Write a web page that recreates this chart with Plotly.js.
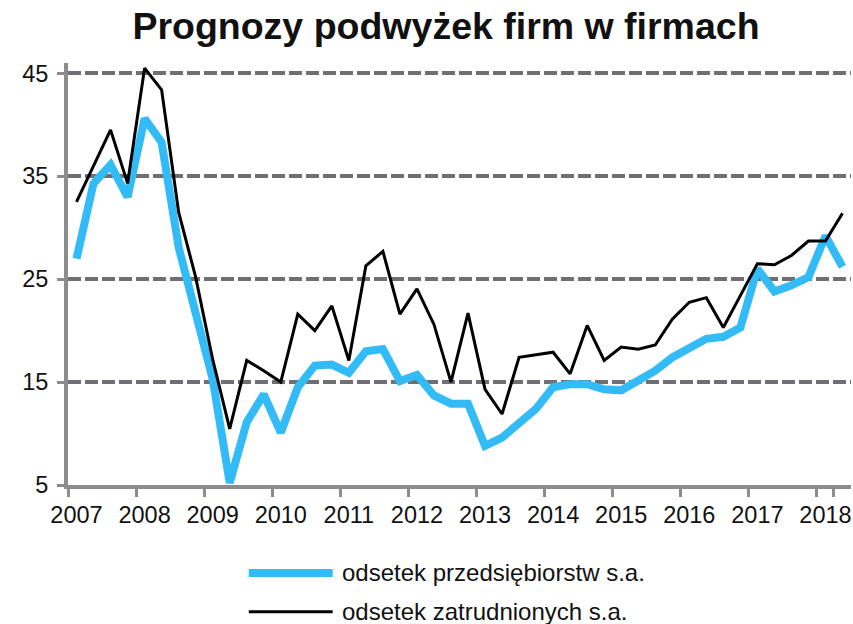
<!DOCTYPE html>
<html>
<head>
<meta charset="utf-8">
<script src="https://cdn.plot.ly/plotly-3.0.1.min.js"></script>
<style>html,body{margin:0;padding:0;background:#fff;}#chart{width:853px;height:624px;}</style>
</head>
<body>
<div id="chart"></div>
<script>
// Categories: quarters 2007 Q1 .. 2018 Q2
const years = ['2007','2008','2009','2010','2011','2012','2013','2014','2015','2016','2017','2018'];
const quarterNames = ['Q1','Q2','Q3','Q4'];
const quarters = [];
years.forEach(y => quarterNames.forEach(q => quarters.push(y + ' ' + q)));
quarters.splice(46); // data end at 2018 Q2

const seriesNames = ['odsetek przedsiębiorstw s.a.', 'odsetek zatrudnionych s.a.'];

const przedsiebiorstw = [27.0, 34.3, 36.1, 33.0, 40.6, 38.3, 28.1, 21.9, 15.3, 5.2,
  11.1, 13.8, 10.1, 14.5, 16.6, 16.7, 15.9, 18.0, 18.2, 15.1,
  15.7, 13.7, 12.9, 12.9, 8.8, 9.6, 11.1, 12.4, 14.5, 14.8,
  14.8, 14.3, 14.2, 15.1, 16.1, 17.4, 18.4, 19.2, 19.4, 20.3,
  26.0, 23.8, 24.4, 25.2, 29.2, 26.2];

const zatrudnionych = [32.5, 36.0, 39.5, 34.3, 45.5, 43.4, 31.5, 25.2, 17.2, 10.45,
  17.1, 16.1, 15.0, 21.6, 20.0, 22.4, 17.1, 26.3, 27.7, 21.6,
  24.05, 20.6, 15.0, 21.7, 14.3, 11.9, 17.4, 17.65, 17.9, 15.8,
  20.5, 17.1, 18.4, 18.2, 18.6, 21.1, 22.75, 23.2, 20.3, 23.4,
  26.5, 26.4, 27.3, 28.7, 28.7, 31.4];

const xTickVals = years.map(y => y + ' Q1');
const xTickText = years;
const yTickVals = [5, 15, 25, 35, 45];

const blue = '#33bbf7';
const axisGray = '#8c8c8c';
const gridGray = '#6f6f74';
const font = 'Liberation Sans, Arial, sans-serif';

const traces = [
  {x: quarters, y: przedsiebiorstw, name: seriesNames[0], type: 'scatter', mode: 'lines',
   line: {color: blue, width: 8}},
  {x: quarters, y: zatrudnionych, name: seriesNames[1], type: 'scatter', mode: 'lines',
   line: {color: '#000000', width: 3}}
];

// manual legend (long line samples as in the reference)
const legendY = [-0.2085, -0.3003];
const legendColors = [blue, '#000000'];
const legendWidths = [8, 3];

const shapes = legendY.map((yy, k) => ({
  type: 'line', xref: 'paper', yref: 'paper', x0: 0.2309, x1: 0.338, y0: yy, y1: yy,
  line: {color: legendColors[k], width: legendWidths[k]}
}));
const annotations = legendY.map((yy, k) => ({
  xref: 'paper', yref: 'paper', x: 0.3469, y: yy, xanchor: 'left', yanchor: 'middle',
  text: seriesNames[k], showarrow: false, font: {family: font, size: 24, color: '#111'}
}));

const layout = {
  width: 853, height: 624,
  margin: {l: 68, r: 2, t: 63, b: 139},
  paper_bgcolor: '#ffffff', plot_bgcolor: '#ffffff',
  showlegend: false,
  title: {text: 'Prognozy podwyżek firm w firmach', x: 446/853, xanchor: 'center',
          y: 0.958, yanchor: 'middle', yref: 'container',
          font: {family: font, size: 37.5, weight: 'bold', color: '#111'}},
  xaxis: {type: 'category', range: [-0.5, 45.5], tickmode: 'array',
          tickvals: xTickVals, ticktext: xTickText, tickson: 'boundaries', tickangle: 0,
          ticklabelstandoff: 6,
          showgrid: false, zeroline: false,
          showline: true, linecolor: axisGray, linewidth: 4,
          ticks: 'outside', ticklen: 8, tickwidth: 3, tickcolor: axisGray,
          tickfont: {family: font, size: 23.5, color: '#111'}},
  yaxis: {range: [5, 46], tickmode: 'array', tickvals: yTickVals,
          ticklabelstandoff: 4,
          showgrid: true, gridcolor: gridGray, gridwidth: 4, griddash: '13px,4px',
          zeroline: false, showline: true, linecolor: axisGray, linewidth: 4,
          ticks: 'outside', ticklen: 7, tickwidth: 3, tickcolor: axisGray,
          tickfont: {family: font, size: 23.5, color: '#111'}},
  shapes: shapes,
  annotations: annotations
};

Plotly.newPlot('chart', traces, layout, {displayModeBar: false, staticPlot: true});
</script>
</body>
</html>
